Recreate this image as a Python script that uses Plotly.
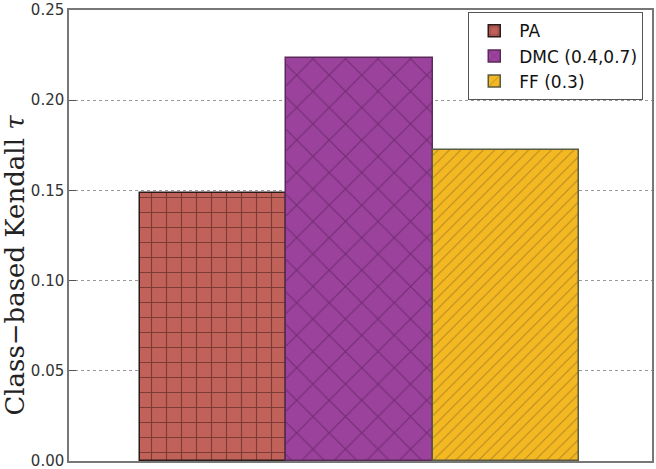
import plotly.graph_objects as go

categories = ["PA", "DMC (0.4,0.7)", "FF (0.3)"]
values = [0.1485, 0.2235, 0.1722]
fill_colors = ["#c1625a", "#9b429c", "#f4b823"]
hatch_colors = ["#3a1412", "#4a1a4c", "#6a5420"]
edge_colors = ["#2a1a18", "#5a2a5a", "#5a5a40"]
hatch_shapes = ["+", "x", "/"]
hatch_sizes = [15, 23, 8]
hatch_solidity = [0.15, 0.1, 0.12]
y_ticks = [0.0, 0.05, 0.10, 0.15, 0.20, 0.25]
y_tick_labels = ["0.00", "0.05", "0.10", "0.15", "0.20", "0.25"]
y_title = "Class\u2212based Kendall <i>\u03c4</i>"

fig = go.Figure()
for i, (cat, val) in enumerate(zip(categories, values)):
    fig.add_trace(go.Bar(
        x=[i], y=[val], width=[1.0], name=cat,
        marker=dict(
            color=fill_colors[i],
            line=dict(color=edge_colors[i], width=1.5),
            pattern=dict(shape=hatch_shapes[i], size=hatch_sizes[i],
                         solidity=hatch_solidity[i], fgcolor=hatch_colors[i],
                         bgcolor=fill_colors[i], fillmode="overlay"),
        ),
    ))

fig.add_annotation(
    text=y_title, xref="paper", yref="paper", x=-0.093, y=0.435,
    xanchor="center", yanchor="middle", textangle=-90, showarrow=False,
    font=dict(family="DejaVu Serif", size=26, color="#222"),
)

fig.update_layout(
    width=656, height=469,
    margin=dict(l=69, r=4, t=10, b=8, autoexpand=False),
    paper_bgcolor="white", plot_bgcolor="white",
    bargap=0, showlegend=True,
    font=dict(family="DejaVu Sans", color="#222"),
    legend=dict(
        x=0.985, y=0.995, xanchor="right", yanchor="top",
        bordercolor="#555", borderwidth=1, bgcolor="white",
        font=dict(family="DejaVu Sans", size=17, color="#111"),
        itemwidth=40,
    ),
    xaxis=dict(
        range=[-0.985, 3.0], showticklabels=False, showgrid=False,
        zeroline=False, showline=True, linecolor="#777", linewidth=1.5,
        mirror=True, ticks="",
    ),
    yaxis=dict(
        range=[0, 0.25], tickvals=y_ticks, ticktext=y_tick_labels,
        showgrid=True, gridcolor="#999", griddash="dot", gridwidth=1,
        zeroline=False, showline=True, linecolor="#777", linewidth=1.5,
        mirror=True, ticks="inside", ticklen=7, tickcolor="#555",
        automargin=False, ticklabeloverflow="allow",
        tickfont=dict(family="DejaVu Sans", size=15, color="#333"),
    ),
)

fig.write_html("out.html", config={"displayModeBar": False},
               post_script="document.body.style.margin='0';document.body.style.overflow='hidden';")
